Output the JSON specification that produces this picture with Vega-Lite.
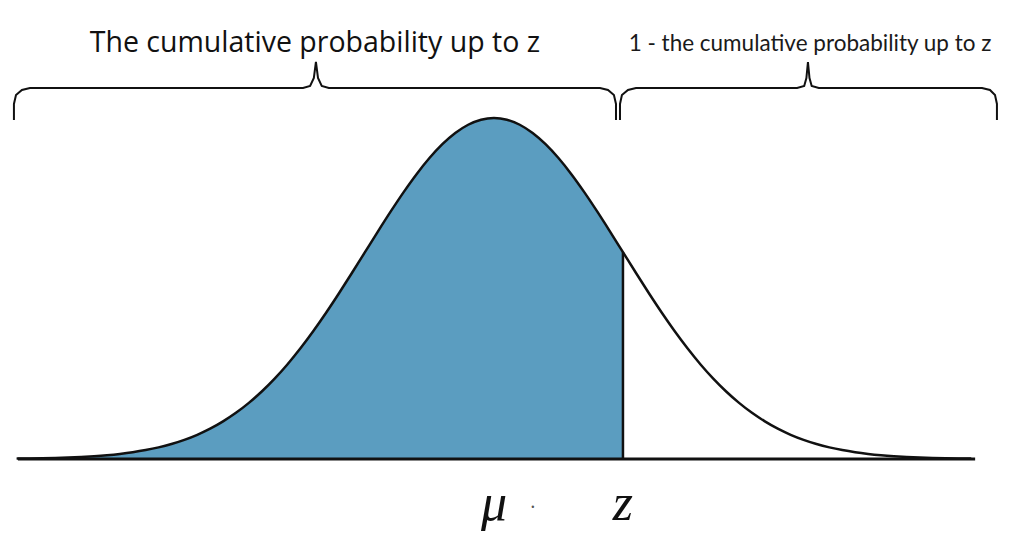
{
  "$schema": "https://vega.github.io/schema/vega-lite/v6.json",
  "width": 1015,
  "height": 551,
  "autosize": {"type": "fit", "contains": "padding"},
  "padding": 0,
  "background": "white",
  "config": {"view": {"stroke": null}},
  "datasets": {
    "curve": [
      {"x": -3.7, "d": 0.0011}, {"x": -3.6, "d": 0.0015}, {"x": -3.5, "d": 0.0022}, {"x": -3.4, "d": 0.0031},
      {"x": -3.3, "d": 0.0043}, {"x": -3.2, "d": 0.0060}, {"x": -3.1, "d": 0.0082}, {"x": -3.0, "d": 0.0111},
      {"x": -2.9, "d": 0.0149}, {"x": -2.8, "d": 0.0198}, {"x": -2.7, "d": 0.0261}, {"x": -2.6, "d": 0.0340},
      {"x": -2.5, "d": 0.0439}, {"x": -2.4, "d": 0.0561}, {"x": -2.3, "d": 0.0710}, {"x": -2.2, "d": 0.0889},
      {"x": -2.1, "d": 0.1103}, {"x": -2.0, "d": 0.1353}, {"x": -1.9, "d": 0.1645}, {"x": -1.8, "d": 0.1979},
      {"x": -1.7, "d": 0.2357}, {"x": -1.6, "d": 0.2780}, {"x": -1.5, "d": 0.3247}, {"x": -1.4, "d": 0.3753},
      {"x": -1.3, "d": 0.4296}, {"x": -1.2, "d": 0.4868}, {"x": -1.1, "d": 0.5461}, {"x": -1.0, "d": 0.6065},
      {"x": -0.9, "d": 0.6670}, {"x": -0.8, "d": 0.7261}, {"x": -0.7, "d": 0.7827}, {"x": -0.6, "d": 0.8353},
      {"x": -0.5, "d": 0.8825}, {"x": -0.4, "d": 0.9231}, {"x": -0.3, "d": 0.9560}, {"x": -0.2, "d": 0.9802},
      {"x": -0.1, "d": 0.9950}, {"x": 0.0, "d": 1.0000}, {"x": 0.1, "d": 0.9950}, {"x": 0.2, "d": 0.9802},
      {"x": 0.3, "d": 0.9560}, {"x": 0.4, "d": 0.9231}, {"x": 0.5, "d": 0.8825}, {"x": 0.6, "d": 0.8353},
      {"x": 0.7, "d": 0.7827}, {"x": 0.8, "d": 0.7261}, {"x": 0.9, "d": 0.6670}, {"x": 1.0, "d": 0.6065},
      {"x": 1.1, "d": 0.5461}, {"x": 1.2, "d": 0.4868}, {"x": 1.3, "d": 0.4296}, {"x": 1.4, "d": 0.3753},
      {"x": 1.5, "d": 0.3247}, {"x": 1.6, "d": 0.2780}, {"x": 1.7, "d": 0.2357}, {"x": 1.8, "d": 0.1979},
      {"x": 1.9, "d": 0.1645}, {"x": 2.0, "d": 0.1353}, {"x": 2.1, "d": 0.1103}, {"x": 2.2, "d": 0.0889},
      {"x": 2.3, "d": 0.0710}, {"x": 2.4, "d": 0.0561}, {"x": 2.5, "d": 0.0439}, {"x": 2.6, "d": 0.0340},
      {"x": 2.7, "d": 0.0261}, {"x": 2.8, "d": 0.0198}, {"x": 2.9, "d": 0.0149}, {"x": 3.0, "d": 0.0111},
      {"x": 3.1, "d": 0.0082}, {"x": 3.2, "d": 0.0060}, {"x": 3.3, "d": 0.0043}, {"x": 3.4, "d": 0.0031},
      {"x": 3.5, "d": 0.0022}, {"x": 3.6, "d": 0.0015}, {"x": 3.7, "d": 0.0011}
    ],
    "braces": [
      {"b": "left", "i": 1, "x": -3.721, "y": 0.9941},
      {"b": "left", "i": 2, "x": -3.721, "y": 1.0411},
      {"b": "left", "i": 3, "x": -3.705, "y": 1.0674},
      {"b": "left", "i": 4, "x": -3.659, "y": 1.0821},
      {"b": "left", "i": 5, "x": -3.597, "y": 1.0880},
      {"b": "left", "i": 6, "x": -1.480, "y": 1.0880},
      {"b": "left", "i": 7, "x": -1.425, "y": 1.0938},
      {"b": "left", "i": 8, "x": -1.396, "y": 1.1173},
      {"b": "left", "i": 9, "x": -1.380, "y": 1.1642},
      {"b": "left", "i": 10, "x": -1.364, "y": 1.1173},
      {"b": "left", "i": 11, "x": -1.335, "y": 1.0938},
      {"b": "left", "i": 12, "x": -1.280, "y": 1.0880},
      {"b": "left", "i": 13, "x": 0.822, "y": 1.0880},
      {"b": "left", "i": 14, "x": 0.884, "y": 1.0821},
      {"b": "left", "i": 15, "x": 0.930, "y": 1.0674},
      {"b": "left", "i": 16, "x": 0.946, "y": 1.0411},
      {"b": "left", "i": 17, "x": 0.946, "y": 0.9941},
      {"b": "right", "i": 1, "x": 0.977, "y": 0.9941},
      {"b": "right", "i": 2, "x": 0.977, "y": 1.0411},
      {"b": "right", "i": 3, "x": 0.992, "y": 1.0674},
      {"b": "right", "i": 4, "x": 1.039, "y": 1.0821},
      {"b": "right", "i": 5, "x": 1.101, "y": 1.0880},
      {"b": "right", "i": 6, "x": 2.350, "y": 1.0880},
      {"b": "right", "i": 7, "x": 2.405, "y": 1.0938},
      {"b": "right", "i": 8, "x": 2.422, "y": 1.1173},
      {"b": "right", "i": 9, "x": 2.434, "y": 1.1642},
      {"b": "right", "i": 10, "x": 2.446, "y": 1.1173},
      {"b": "right", "i": 11, "x": 2.463, "y": 1.0938},
      {"b": "right", "i": 12, "x": 2.518, "y": 1.0880},
      {"b": "right", "i": 13, "x": 3.783, "y": 1.0880},
      {"b": "right", "i": 14, "x": 3.845, "y": 1.0821},
      {"b": "right", "i": 15, "x": 3.884, "y": 1.0674},
      {"b": "right", "i": 16, "x": 3.899, "y": 1.0411},
      {"b": "right", "i": 17, "x": 3.899, "y": 0.9941}
    ]
  },
  "layer": [
    {
      "data": {"name": "curve"},
      "transform": [{"filter": "datum.x <= 1.0"}],
      "mark": {"type": "area", "color": "#5b9dc0", "opacity": 1},
      "encoding": {
        "x": {"field": "x", "type": "quantitative", "scale": {"domain": [-3.829, 4.039], "nice": false, "zero": false}, "axis": null},
        "y": {"field": "d", "type": "quantitative", "scale": {"domain": [-0.2698, 1.346], "nice": false, "zero": false}, "axis": null}
      }
    },
    {
      "data": {"name": "curve"},
      "mark": {"type": "line", "color": "#111111", "strokeWidth": 2.5, "interpolate": "monotone"},
      "encoding": {
        "x": {"field": "x", "type": "quantitative"},
        "y": {"field": "d", "type": "quantitative"}
      }
    },
    {
      "data": {"values": [{"x1": -3.69, "x2": 3.73, "y": 0}]},
      "mark": {"type": "rule", "color": "#111111", "strokeWidth": 3},
      "encoding": {
        "x": {"field": "x1", "type": "quantitative"},
        "x2": {"field": "x2"},
        "y": {"field": "y", "type": "quantitative"}
      }
    },
    {
      "data": {"values": [{"x": 1.0, "y1": 0, "y2": 0.6065}]},
      "mark": {"type": "rule", "color": "#111111", "strokeWidth": 2.5},
      "encoding": {
        "x": {"field": "x", "type": "quantitative"},
        "y": {"field": "y1", "type": "quantitative"},
        "y2": {"field": "y2"}
      }
    },
    {
      "data": {"name": "braces"},
      "mark": {"type": "line", "color": "#111111", "strokeWidth": 2},
      "encoding": {
        "x": {"field": "x", "type": "quantitative"},
        "y": {"field": "y", "type": "quantitative"},
        "detail": {"field": "b"},
        "order": {"field": "i", "type": "quantitative"}
      }
    },
    {
      "data": {"values": [{"x": -1.388, "y": 1.1935, "t": "The cumulative probability up to z"}]},
      "mark": {"type": "text", "font": "Open Sans", "fontSize": 28.5, "color": "#111111", "align": "center", "baseline": "alphabetic"},
      "encoding": {
        "x": {"field": "x", "type": "quantitative"},
        "y": {"field": "y", "type": "quantitative"},
        "text": {"field": "t"}
      }
    },
    {
      "data": {"values": [{"x": 2.45, "y": 1.1965, "t": "1 - the cumulative probability up to z"}]},
      "mark": {"type": "text", "font": "Lato", "fontSize": 22.5, "color": "#1a1a1a", "align": "center", "baseline": "alphabetic"},
      "encoding": {
        "x": {"field": "x", "type": "quantitative"},
        "y": {"field": "y", "type": "quantitative"},
        "text": {"field": "t"}
      }
    },
    {
      "data": {"values": [{"x": 0.0, "y": -0.1789, "t": "μ"}, {"x": 1.0, "y": -0.1789, "t": "z"}]},
      "mark": {"type": "text", "font": "Liberation Serif", "fontStyle": "italic", "fontSize": 52, "color": "#111111", "align": "center", "baseline": "alphabetic"},
      "encoding": {
        "x": {"field": "x", "type": "quantitative"},
        "y": {"field": "y", "type": "quantitative"},
        "text": {"field": "t"}
      }
    },
    {
      "data": {"values": [{"x": 0.302, "y": -0.1437, "t": "·"}]},
      "mark": {"type": "text", "font": "Liberation Serif", "fontSize": 20, "color": "#555555", "align": "center", "baseline": "middle"},
      "encoding": {
        "x": {"field": "x", "type": "quantitative"},
        "y": {"field": "y", "type": "quantitative"},
        "text": {"field": "t"}
      }
    }
  ]
}
